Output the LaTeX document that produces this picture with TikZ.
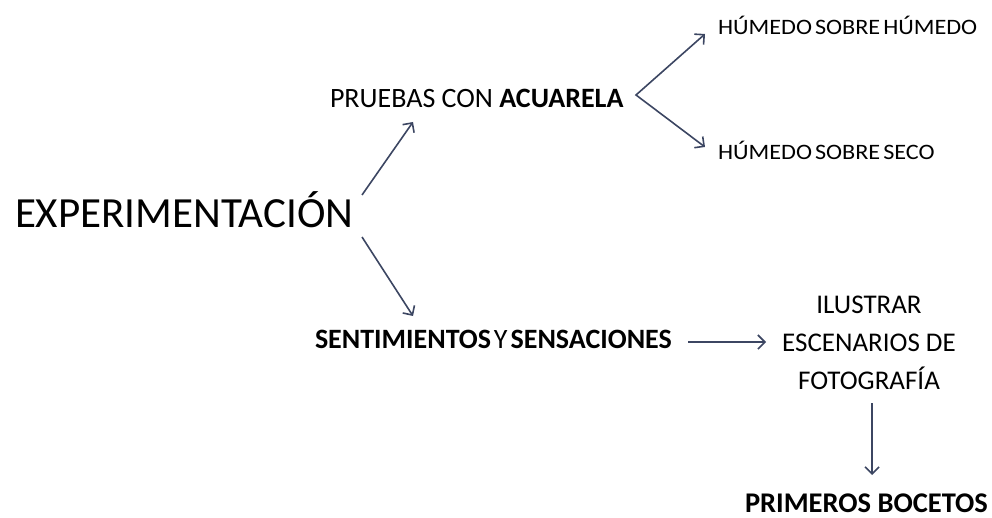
\documentclass[tikz,border=0pt]{standalone}
\usepackage{fontspec}
\setmainfont{Carlito}
\usetikzlibrary{arrows.meta}
\definecolor{arrowcol}{HTML}{3C4662}
\tikzset{
  tipv/.tip={Straight Barb[length=7pt,width=14pt,line width=1.6pt]},
  arr/.style={draw=arrowcol, line width=1.6pt, -tipv},
  dblarr/.style={draw=arrowcol, line width=1.6pt, tipv-tipv, line join=miter},
  lbl/.style={inner sep=0pt, outer sep=0pt, text=black}
}
\begin{document}
\begin{tikzpicture}[x=1pt,y=-1pt]
\useasboundingbox (0,0) rectangle (992,518);
\node[lbl, anchor=base west, font=\fontsize{43}{43}\selectfont] (exp) at (15,228) {EXPERIMENTACIÓN};
\node[lbl, anchor=base west, font=\fontsize{28}{28}\selectfont] (pr) at (330,108) {PRUEBAS CON \textbf{ACUARELA}};
\node[lbl, anchor=base west, font=\fontsize{22}{22}\selectfont\addfontfeature{FakeStretch=1.1}] (hh) at (718,35) {HÚMEDO\hspace{3pt}SOBRE\hspace{3pt}HÚMEDO};
\node[lbl, anchor=base west, font=\fontsize{22}{22}\selectfont\addfontfeature{FakeStretch=1.1}] (hs) at (718,160) {HÚMEDO\hspace{3pt}SOBRE\hspace{3pt}SECO};
\node[lbl, anchor=base west, font=\fontsize{28}{28}\selectfont] (sen) at (315,348) {\textbf{SENTIMIENTOS}\hspace{3pt}Y\hspace{3pt}\textbf{SENSACIONES}};
\node[lbl, align=center, font=\fontsize{27}{38}\selectfont] (ilu) at (869,343) {ILUSTRAR\\ESCENARIOS DE\\FOTOGRAFÍA};
\node[lbl, anchor=base west, font=\fontsize{28.5}{28.5}\selectfont\bfseries] (pb) at (745,512) {PRIMEROS BOCETOS};
\draw[arr] ([shift={(347,-33)}]exp.base west) -- ([shift={(83,14)}]pr.base west);
\draw[arr] ([shift={(347,9)}]exp.base west) -- ([shift={(98,-32)}]sen.base west);
\draw[dblarr] ([shift={(-13,-1)}]hh.base west) -- ([shift={(306,-13)}]pr.base west) -- ([shift={(-13,-13)}]hs.base west);
\draw[arr] ([shift={(373,-6)}]sen.base west) -- ([shift={(-103,-1)}]ilu.center);
\draw[arr] ([shift={(3,60)}]ilu.center) -- ([shift={(127,-37)}]pb.base west);
\end{tikzpicture}
\end{document}
